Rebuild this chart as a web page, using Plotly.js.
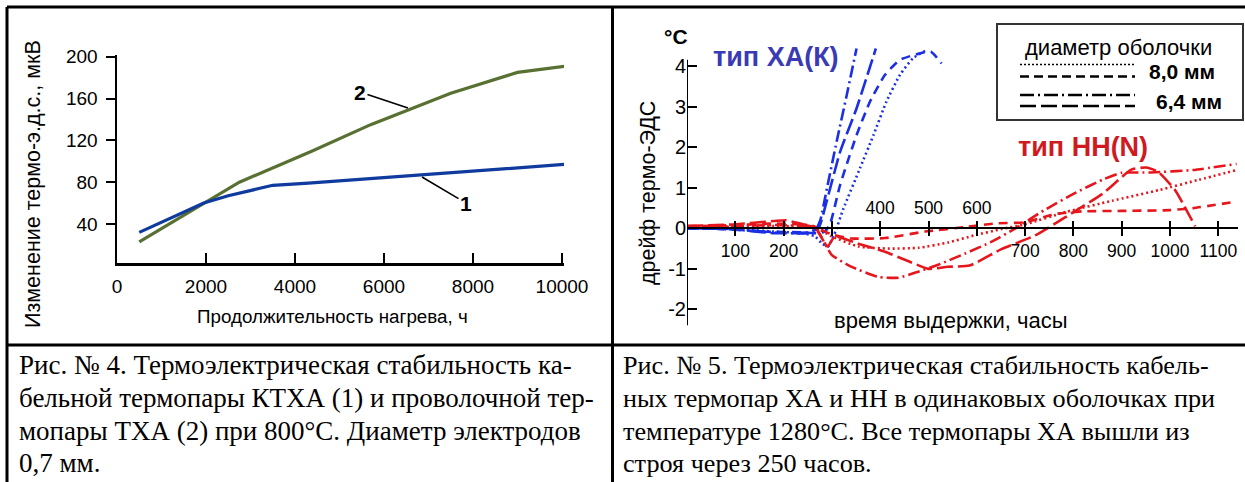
<!DOCTYPE html>
<html><head><meta charset="utf-8">
<script src="https://cdn.plot.ly/plotly-3.0.1.min.js"></script>
<style>html,body{margin:0;padding:0;background:#fff;overflow:hidden}#chart{width:1245px;height:482px}</style>
</head><body><div id="chart"></div>
<script>
// ---------- Fig. 4 data ----------
const hoursKTXA = [500, 1950, 2500, 3500, 4300, 6900, 10050];
const emfKTXA   = [32, 60, 67, 77, 79, 87, 97];
const hoursTXA  = [500, 2750, 4400, 5700, 7500, 9000, 10100];
const emfTXA    = [23, 80, 110, 135, 165, 185, 191];
const fig4XTicks = [0, 2000, 4000, 6000, 8000, 10000];
const fig4YTicks = [40, 80, 120, 160, 200];

// ---------- Fig. 5 data (hours, drift °C) ----------
const xaDotT = [0, 60, 120, 180, 240, 265, 280, 292, 305, 324, 358, 386, 413, 441, 468, 493];
const xaDotV = [0.02, 0.0, -0.03, -0.08, -0.12, -0.2, -0.38, -0.45, -0.15, 0.49, 1.48, 2.3, 3.13, 3.79, 4.2, 4.38];
const xaDashT = [0, 80, 160, 240, 270, 285, 296, 317, 351, 379, 410, 441, 482, 505, 527];
const xaDashV = [0.0, -0.02, -0.08, -0.1, -0.12, -0.08, 0.1, 1.07, 2.3, 3.13, 3.79, 4.16, 4.32, 4.36, 4.07];
const xaDashDotT = [0, 100, 180, 250, 268, 276, 290, 310, 330, 351];
const xaDashDotV = [0.0, -0.02, -0.1, -0.12, 0.0, 0.2, 1.0, 2.15, 3.25, 4.44];
const xaLongDashT = [0, 100, 180, 250, 272, 289, 317, 351, 391];
const xaLongDashV = [0.01, -0.03, -0.12, -0.1, 0.0, 0.66, 1.89, 2.96, 4.44];

const nnDotT = [0, 60, 120, 200, 265, 300, 355, 420, 480, 540, 596, 650, 700, 786, 880, 979, 1060, 1138];
const nnDotV = [0.03, 0.02, 0.06, 0.05, 0.02, -0.2, -0.45, -0.5, -0.48, -0.35, -0.17, -0.02, 0.1, 0.41, 0.68, 0.95, 1.2, 1.44];
const nnDashT = [0, 100, 180, 230, 265, 300, 341, 410, 493, 582, 638, 700, 760, 820, 900, 1000, 1048, 1138];
const nnDashV = [0.05, 0.08, 0.12, 0.1, 0.03, -0.15, -0.25, -0.24, -0.08, 0.04, 0.12, 0.15, 0.35, 0.42, 0.43, 0.45, 0.5, 0.66];
const nnLongDashT = [0, 100, 180, 205, 240, 265, 291, 306, 360, 410, 460, 500, 540, 585, 650, 720, 780, 860, 920, 950, 975, 1010, 1052];
const nnLongDashV = [0.06, 0.1, 0.18, 0.2, 0.1, 0.04, -0.45, -0.2, -0.4, -0.58, -0.82, -1.0, -0.95, -0.92, -0.52, -0.18, 0.25, 0.85, 1.45, 1.5, 1.4, 0.95, 0.05];
const nnDashDotT = [0, 90, 190, 265, 300, 341, 396, 437, 479, 520, 576, 631, 680, 740, 800, 860, 900, 960, 1048, 1138];
const nnDashDotV = [0.02, 0.05, 0.08, 0.0, -0.66, -0.95, -1.2, -1.22, -1.07, -0.9, -0.62, -0.33, 0.0, 0.45, 0.85, 1.2, 1.37, 1.38, 1.44, 1.59];

const fig5XTicks = [100, 200, 300, 400, 500, 600, 700, 800, 900, 1000, 1100];
const fig5XLabelsBelow = ['100', '200', '', '', '', '', '700', '800', '900', '1000', '1100'];
const fig5XLabelsAbove = ['', '', '', '400', '500', '600', '', '', '', '', ''];
const fig5YTicks = [-2, -1, 0, 1, 2, 3, 4];
const fig5YLabels = ['-2', '-1', '0', '1', '2', '3', '4'];

// ---------- text ----------
const capLeft = [
  'Рис. № 4. Термоэлектрическая стабильность ка-',
  'бельной термопары КТХА (1) и проволочной тер-',
  'мопары ТХА (2) при 800°C. Диаметр электродов',
  '0,7 мм.'
];
const capRight = [
  'Рис. № 5. Термоэлектрическая стабильность кабель-',
  'ных термопар ХА и НН в одинаковых оболочках при',
  'температуре 1280°C. Все термопары ХА вышли из',
  'строя через 250 часов.'
];

const W = 1245, H = 482;
const PX = x => x / W;
const PY = y => 1 - y / H;
const SANS = 'Liberation Sans, Arial, sans-serif';
const SERIF = 'Liberation Serif, Times New Roman, serif';
const RED = '#e5161c', BLUE = '#1b2fe4';

const traces = [
  {x: hoursTXA, y: emfTXA, xaxis: 'x', yaxis: 'y', mode: 'lines', line: {color: '#587132', width: 3.2}, hoverinfo: 'skip'},
  {x: hoursKTXA, y: emfKTXA, xaxis: 'x', yaxis: 'y', mode: 'lines', line: {color: '#0f3a9e', width: 3.2}, hoverinfo: 'skip'},
];
const sp = {shape: 'spline', smoothing: 0.5};
function f5(t, v, color, dash, ax) {
  return {x: t, y: v, xaxis: ax, yaxis: 'y2', mode: 'lines', hoverinfo: 'skip',
    line: Object.assign({color: color, width: 2.6, dash: dash}, sp)};
}
traces.push(f5(xaDotT, xaDotV, BLUE, '2px,3px', 'x2'));
traces.push(f5(xaDashT, xaDashV, BLUE, '9px,6px', 'x2'));
traces.push(f5(xaDashDotT, xaDashDotV, BLUE, '12px,4px,2px,4px', 'x2'));
traces.push(f5(xaLongDashT, xaLongDashV, BLUE, '16px,5px', 'x2'));
traces.push(f5(nnDotT, nnDotV, RED, '2px,3px', 'x3'));
traces.push(f5(nnDashT, nnDashV, RED, '9px,6px', 'x3'));
traces.push(f5(nnLongDashT, nnLongDashV, RED, '16px,5px', 'x3'));
traces.push(f5(nnDashDotT, nnDashDotV, RED, '12px,4px,2px,4px', 'x3'));

const axBase = {showgrid: false, zeroline: false, fixedrange: true, linecolor: '#000', tickcolor: '#000'};
const x2Range = [0, (1238 - 687) / 0.483];
const axisY0 = PY(228.3);

const shapes = [];
function line(x0, y0, x1, y1, w, color, dash) {
  shapes.push({type: 'line', xref: 'paper', yref: 'paper', x0: PX(x0), y0: PY(y0), x1: PX(x1), y1: PY(y1),
    line: {color: color || '#000', width: w, dash: dash || 'solid'}});
}
// table frame
line(7, 7, 1245, 7, 3);
line(7, 7, 7, 482, 3);
line(612.5, 7, 612.5, 482, 3);
line(7, 345, 1245, 345, 3);
// fig 5 vertical axis
shapes.push({type: 'line', xref: 'x2', yref: 'y2', x0: 0, x1: 0, y0: -2.39, y1: 4.16, line: {color: '#000', width: 2}});
// legend box
shapes.push({type: 'rect', xref: 'paper', yref: 'paper', x0: PX(997), x1: PX(1243), y0: PY(120), y1: PY(24), line: {color: '#333', width: 2}});
line(1020, 64.5, 1135, 64.5, 1.6, '#000', '2px,2px');
line(1020, 76.5, 1135, 76.5, 2.6, '#000', '9px,5px');
line(1020, 95, 1135, 95, 2.6, '#000', '14px,4px,2px,4px');
line(1020, 106, 1135, 106, 2.6, '#000', '16px,5px');

const ann = [];
function txt(text, x, y, size, opts) {
  ann.push(Object.assign({text: text, xref: 'paper', yref: 'paper', x: PX(x), y: PY(y), showarrow: false,
    xanchor: 'center', yanchor: 'middle', font: {family: SANS, size: size, color: '#000'}}, opts || {}));
}
// fig 4 labels
txt('Изменение термо-э.д.с., мкВ', 33, 184, 21.5, {textangle: -90});
txt('Продолжительность нагрева, ч', 332, 316, 18.8);
ann.push({text: '<b>2</b>', xref: 'x', yref: 'y', x: 6539, y: 150.9, ax: -48, ay: -16, showarrow: true, arrowhead: 0,
  arrowwidth: 1.6, arrowcolor: '#000', font: {family: SANS, size: 21, color: '#000'}});
ann.push({text: '<b>1</b>', xref: 'x', yref: 'y', x: 6854, y: 84.9, ax: 44, ay: 26, showarrow: true, arrowhead: 0,
  arrowwidth: 1.6, arrowcolor: '#000', font: {family: SANS, size: 21, color: '#000'}});
// fig 5 labels
txt('<b>°C</b>', 676, 37, 21);
txt('дрейф термо-ЭДС', 648, 193, 21.5, {textangle: -90});
txt('время выдержки, часы', 950, 320, 22);
txt('<b>тип ХА(К)</b>', 711, 57, 27, {xanchor: 'left', font: {family: SANS, size: 27, color: '#3a3ab4'}});
txt('<b>тип НН(N)</b>', 1016, 147, 27, {xanchor: 'left', font: {family: SANS, size: 27, color: '#cf1a1f'}});
txt('диаметр оболочки', 1118, 48, 22);
txt('<b>8,0 мм</b>', 1147, 71, 21, {xanchor: 'left'});
txt('<b>6,4 мм</b>', 1154, 101, 21, {xanchor: 'left'});
// captions
const capY = [365, 398, 431, 463];
capLeft.forEach((s, i) => txt(s, 17, capY[i], 27, {xanchor: 'left', font: {family: SERIF, size: 27, color: '#000'}}));
capRight.forEach((s, i) => txt(s, 621, capY[i], 26.2, {xanchor: 'left', font: {family: SERIF, size: 26.2, color: '#000'}}));

const layout = {
  width: W, height: H, margin: {l: 0, r: 0, t: 0, b: 0}, paper_bgcolor: '#fff', plot_bgcolor: 'rgba(0,0,0,0)',
  showlegend: false, font: {family: SANS, color: '#000'},
  xaxis: Object.assign({}, axBase, {domain: [PX(117), PX(564)], range: [0, 10045], anchor: 'y', showline: true, linewidth: 2.5,
    ticks: 'inside', ticklen: 10, tickwidth: 2, tickvals: fig4XTicks, ticktext: fig4XTicks.map(String),
    tickfont: {family: SANS, size: 19}, ticklabelstandoff: 5}),
  yaxis: Object.assign({}, axBase, {domain: [PY(263), PY(55)], range: [2.7, 201.6], anchor: 'x', showline: true, linewidth: 2.5,
    ticks: 'outside', ticklen: 9, tickwidth: 2, tickvals: fig4YTicks, ticktext: fig4YTicks.map(String),
    tickfont: {family: SANS, size: 19}, ticklabelstandoff: 4}),
  xaxis2: Object.assign({}, axBase, {domain: [PX(687), PX(1238)], range: x2Range, anchor: 'free', position: axisY0, side: 'bottom',
    showline: true, linewidth: 2, ticks: 'outside', ticklen: 7, tickwidth: 2, tickvals: fig5XTicks, ticktext: fig5XLabelsBelow,
    tickfont: {family: SANS, size: 17.5}}),
  xaxis3: Object.assign({}, axBase, {overlaying: 'x2', range: x2Range, anchor: 'free', position: axisY0, side: 'top',
    showline: false, ticks: 'outside', ticklen: 7, tickwidth: 2, tickvals: fig5XTicks, ticktext: fig5XLabelsAbove,
    tickfont: {family: SANS, size: 17.5}}),
  yaxis2: Object.assign({}, axBase, {domain: [PY(330), PY(40)], range: [-2.51, 4.65], anchor: 'x2', showline: false,
    ticks: 'inside', ticklen: 10, tickwidth: 2, tickvals: fig5YTicks, ticktext: fig5YLabels, tickfont: {family: SANS, size: 20}}),
  shapes: shapes,
  annotations: ann
};
Plotly.newPlot('chart', traces, layout, {staticPlot: true, displayModeBar: false});
</script></body></html>
